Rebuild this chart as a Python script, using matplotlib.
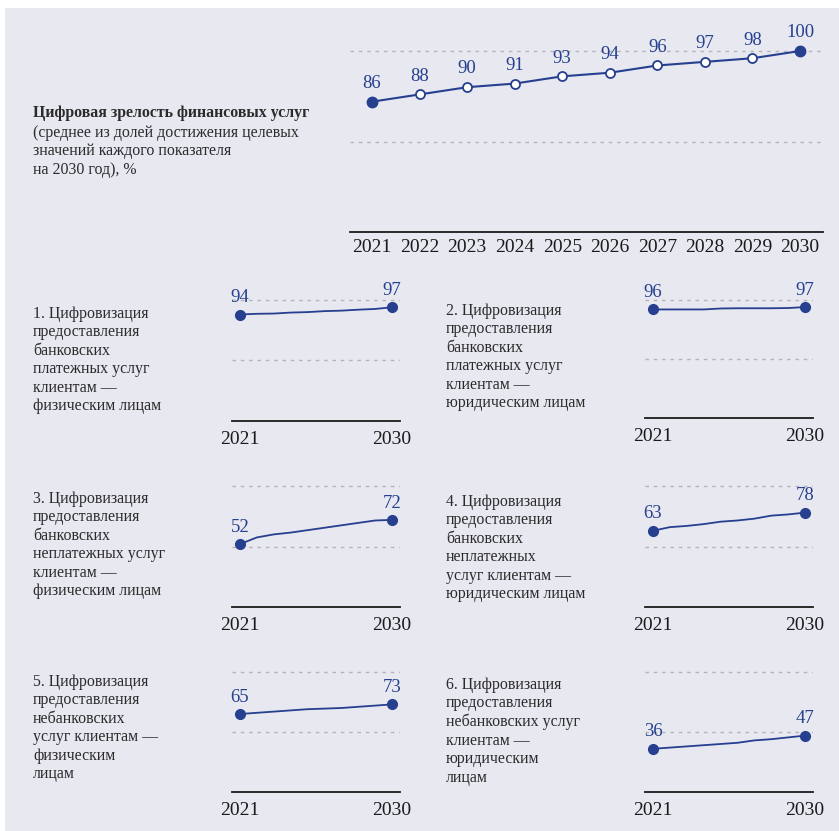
import matplotlib
matplotlib.use('Agg')
import matplotlib.pyplot as plt
from matplotlib.patches import Rectangle

W, H = 839, 831
BG = '#e7e8f0'
BLUE = '#263f8f'
GRID = '#b4b4b8'
TEXT = '#2b2b2b'

plt.rcParams['font.family'] = ['Liberation Serif', 'DejaVu Serif']

# ---- data ----
years = [2021, 2022, 2023, 2024, 2025, 2026, 2027, 2028, 2029, 2030]
maturity = [86, 88, 90, 91, 93, 94, 96, 97, 98, 100]

main_title = 'Цифровая зрелость финансовых услуг'
main_subtitle = ('(среднее из долей достижения целевых\n'
                 'значений каждого показателя\n'
                 'на 2030 год), %')

panel_titles = [
    '1. Цифровизация\nпредоставления\nбанковских\nплатежных услуг\nклиентам —\nфизическим лицам',
    '2. Цифровизация\nпредоставления\nбанковских\nплатежных услуг\nклиентам —\nюридическим лицам',
    '3. Цифровизация\nпредоставления\nбанковских\nнеплатежных услуг\nклиентам —\nфизическим лицам',
    '4. Цифровизация\nпредоставления\nбанковских\nнеплатежных\nуслуг клиентам —\nюридическим лицам',
    '5. Цифровизация\nпредоставления\nнебанковских\nуслуг клиентам —\nфизическим\nлицам',
    '6. Цифровизация\nпредоставления\nнебанковских услуг\nклиентам —\nюридическим\nлицам',
]
panel_values = [
    [94, 94.3, 94.4, 94.8, 95.0, 95.4, 95.6, 96.0, 96.3, 97],
    [96, 96.0, 96.0, 96.0, 96.4, 96.5, 96.5, 96.5, 96.6, 97],
    [52, 57.5, 60, 61.5, 63.5, 65.5, 67.5, 69.5, 71.5, 72],
    [63, 66, 67, 68.5, 70.5, 71.5, 73, 75.5, 76.5, 78],
    [65, 66, 67, 68, 69, 69.5, 70, 71, 72, 73],
    [36, 37, 38, 39, 40, 41, 43, 44, 45.5, 47],
]
panel_floor = [50, 50, 0, 0, 0, 0]
panel_grids = [[75, 100], [75, 100], [50, 100], [50, 100], [50, 100], [50, 100]]

# pixel layout: left, right, baseline y, y of the 100 gridline, text x, text top y
panel_px = [
    (232, 400, 421, 300, 33, 306),
    (645, 813, 418, 300, 446, 303),
    (232, 400, 607, 486, 33, 491),
    (645, 813, 607, 486, 446, 494),
    (232, 400, 792, 672, 33, 674),
    (645, 813, 792, 672, 446, 677),
]


def px_axes(fig, left, right, top, bottom):
    return fig.add_axes([left / W, 1 - bottom / H, (right - left) / W, (bottom - top) / H])


def style_axes(ax, lo, grids, base_px, top_px, g100_px, x0_px, x1_px, left, right):
    scale = (base_px - g100_px) / (100 - lo)
    ax.set_ylim(lo, lo + (base_px - top_px) / scale)
    ppy = (x1_px - x0_px) / (years[-1] - years[0])
    ax.set_xlim(years[0] - (x0_px - left) / ppy, years[-1] + (right - x1_px) / ppy)
    ax.patch.set_visible(False)
    for s in ['top', 'right', 'left']:
        ax.spines[s].set_visible(False)
    ax.spines['bottom'].set_color('#1a1a1a')
    ax.spines['bottom'].set_linewidth(1.3)
    ax.set_yticks([])
    for g in grids:
        ax.axhline(g, color=GRID, lw=1.0, ls=(0, (2.5, 3.5)), zorder=1)


fig = plt.figure(figsize=(W / 100, H / 100), dpi=100)
fig.patch.set_facecolor('white')
fig.patches.append(Rectangle((5 / W, 0), 1, 1 - 8 / H, transform=fig.transFigure,
                             facecolor=BG, edgecolor='none', zorder=-10))

# ---- main chart ----
ax = px_axes(fig, 350, 823, 15, 232)
style_axes(ax, 50, [75, 100], 232, 15, 51, 372, 800, 350, 823)
ax.plot(years, maturity, color=BLUE, lw=1.5, zorder=3)
ax.plot(years[1:-1], maturity[1:-1], 'o', ms=6.5, mfc='white', mec=BLUE, mew=1.3, zorder=4)
ax.plot([years[0], years[-1]], [maturity[0], maturity[-1]], 'o', ms=7.5, color=BLUE, zorder=4)
for x, v in zip(years, maturity):
    ax.annotate(str(v), (x, v), xytext=(0, 7), textcoords='offset points',
                ha='center', va='bottom', color=BLUE, fontsize=13.5)
ax.set_xticks(years)
ax.set_xticklabels([str(y) for y in years], fontsize=14, color='#1a1a1a')
ax.tick_params(axis='x', length=0, pad=5)

fig.text(33 / W, 1 - 113 / H, main_title, fontsize=11.4, fontweight='bold',
         color=TEXT, va='center', ha='left')
fig.text(33 / W, 1 - 125 / H, main_subtitle, fontsize=11.4, color=TEXT,
         va='top', ha='left', linespacing=1.2)

# ---- small panels ----
for title, vals, lo, grids, (left, right, base, g100, tx, ty) in zip(
        panel_titles, panel_values, panel_floor, panel_grids, panel_px):
    top = g100 - 20
    a = px_axes(fig, left, right, top, base)
    style_axes(a, lo, grids, base, top, g100, left + 8, right - 8, left, right)
    a.plot(years, vals, color=BLUE, lw=1.3, zorder=3)
    a.plot([years[0], years[-1]], [vals[0], vals[-1]], 'o', ms=7, color=BLUE, zorder=4)
    a.annotate(str(vals[0]), (years[0], vals[0]), xytext=(0, 6), textcoords='offset points',
               ha='center', va='bottom', color=BLUE, fontsize=13.5)
    a.annotate(str(vals[-1]), (years[-1], vals[-1]), xytext=(0, 6), textcoords='offset points',
               ha='center', va='bottom', color=BLUE, fontsize=13.5)
    a.set_xticks([years[0], years[-1]])
    a.set_xticklabels([str(years[0]), str(years[-1])], fontsize=14, color='#1a1a1a')
    a.tick_params(axis='x', length=0, pad=7)
    fig.text(tx / W, 1 - ty / H, title, fontsize=11.4, color=TEXT,
             va='top', ha='left', linespacing=1.2)

fig.savefig('out.png', dpi=100, facecolor=fig.get_facecolor())
